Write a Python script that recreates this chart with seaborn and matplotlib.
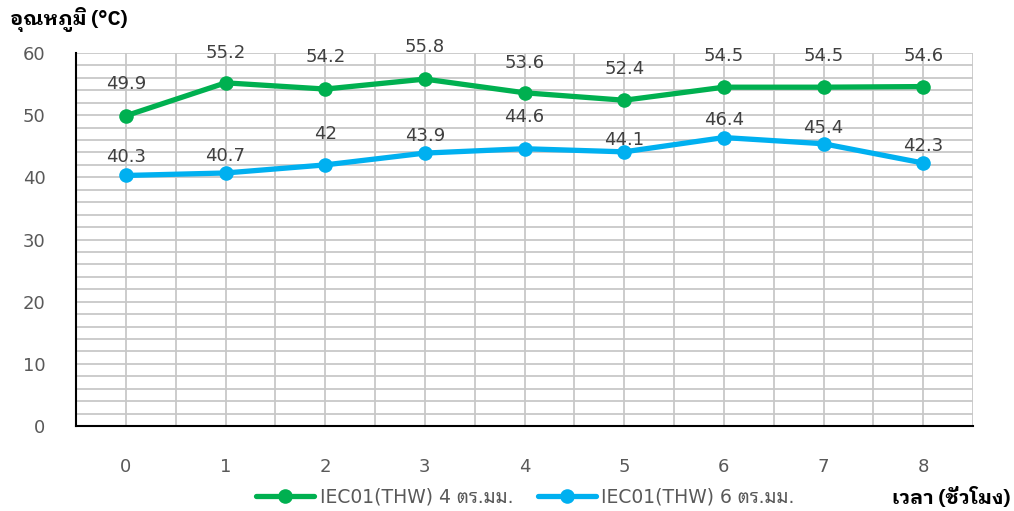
import matplotlib
matplotlib.use("Agg")
import matplotlib.pyplot as plt
from matplotlib.ticker import MultipleLocator
import seaborn as sns
import pandas as pd

hours = [0, 1, 2, 3, 4, 5, 6, 7, 8]
temp_4mm = [49.9, 55.2, 54.2, 55.8, 53.6, 52.4, 54.5, 54.5, 54.6]
temp_6mm = [40.3, 40.7, 42, 43.9, 44.6, 44.1, 46.4, 45.4, 42.3]
labels_4mm = ["49.9", "55.2", "54.2", "55.8", "53.6", "52.4", "54.5", "54.5", "54.6"]
labels_6mm = ["40.3", "40.7", "42", "43.9", "44.6", "44.1", "46.4", "45.4", "42.3"]
series_names = ["IEC01(THW) 4 ตร.มม.", "IEC01(THW) 6 ตร.มม."]
colors = ["#00B050", "#00B0F0"]

# label lift above each point (pixels), as placed in the original
lift_4mm = [32, 30, 32, 32, 30, 31, 31, 31, 31]
lift_6mm = [18, 17, 31, 17, 32, 12, 18, 16, 17]

sns.set_style("white")
plt.rcParams["font.family"] = ["DejaVu Sans", "Noto Sans Thai Looped"]

df = pd.DataFrame({
    "hour": hours * 2,
    "temp": temp_4mm + temp_6mm,
    "series": [series_names[0]] * len(hours) + [series_names[1]] * len(hours),
})

fig = plt.figure(figsize=(10.14, 5.11), dpi=100)
ax = fig.add_axes([0.075, 0.1663, 0.8846, 0.73])

sns.lineplot(data=df, x="hour", y="temp", hue="series", palette=colors,
             marker="o", markersize=10.5, markeredgewidth=0, linewidth=3.8,
             ax=ax, zorder=3)

px = 72 / 100
for vals, labs, lifts in [(temp_4mm, labels_4mm, lift_4mm), (temp_6mm, labels_6mm, lift_6mm)]:
    for x, y, t, d in zip(hours, vals, labs, lifts):
        ax.annotate(t, (x, y), xytext=(0, d * px), textcoords="offset points",
                    ha="center", va="center", fontsize=13, color="#404040", zorder=4)

ax.set_xlim(-0.5, 8.5)
ax.set_ylim(0, 60)
ax.set_xticks(hours)
ax.xaxis.set_minor_locator(MultipleLocator(0.5))
ax.yaxis.set_major_locator(MultipleLocator(10))
ax.yaxis.set_minor_locator(MultipleLocator(2))
ax.grid(which="both", color="#c8c8c8", linewidth=1.3, zorder=0)
ax.set_axisbelow(True)
ax.tick_params(axis="both", which="major", direction="out", length=6, width=1.3,
               color="black", labelsize=13, labelcolor="#595959", pad=17)
ax.tick_params(axis="y", which="major", length=7, pad=15)
ax.tick_params(which="minor", length=0)
for s in ["top", "right"]:
    ax.spines[s].set_visible(False)
for s in ["left", "bottom"]:
    ax.spines[s].set_color("black")
    ax.spines[s].set_linewidth(1.5)
ax.set_xlabel("")
ax.set_ylabel("")

handles, labs = ax.get_legend_handles_labels()
ax.legend(handles, labs, loc="center", bbox_to_anchor=(0.518, 0.027),
          bbox_transform=fig.transFigure, ncol=2, frameon=False, fontsize=13.5,
          labelcolor="#595959", handlelength=3.1, handletextpad=0.3,
          columnspacing=1.3)

title_font = ["IBM Plex Sans Thai Looped", "DejaVu Sans"]
fig.text(0.01, 0.962, "อุณหภูมิ (°C)", fontsize=14.5, fontweight="bold",
         family=title_font, color="black", ha="left", va="center")
fig.text(0.996, 0.027, "เวลา (ชั่วโมง)", fontsize=14.5, fontweight="bold",
         family=title_font, color="black", ha="right", va="center")

fig.savefig("out.png", dpi=100)
